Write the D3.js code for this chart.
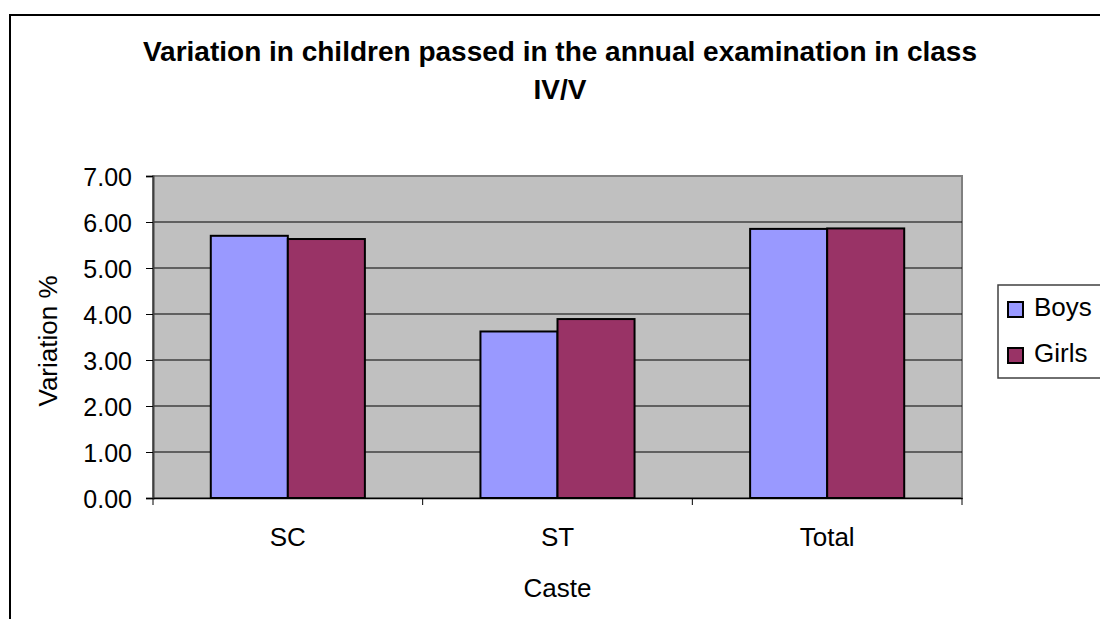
<html lang="en">
  <head>
    <meta charset="utf-8">
    <title>Variation in children passed</title>
    <script src="https://d3js.org/d3.v7.min.js"></script>
    <style>
      body { margin: 0; background: #fff; }
      text { font-family: "Liberation Sans", Arial, sans-serif; fill: #000; }
    </style>
  </head>
  <body>
    <div id="viz"></div>
    <script type="text/javascript">
    // data
    var categories = ["SC", "ST", "Total"];
    var series = ["Boys", "Girls"];
    var boys = [5.70, 3.62, 5.85];
    var girls = [5.63, 3.89, 5.86];
    var yTicks = [0, 1, 2, 3, 4, 5, 6, 7];
    var colors = ["#9999FF", "#993366"];

    var w = 1100, h = 619;
    // plot area (window.top is reserved, so use other names)
    var pLeft = 153, pRight = 962, pTop = 176, pBottom = 498;

    var svg = d3.select("#viz").append("svg")
        .attr("width", w)
        .attr("height", h);

    // outer chart frame
    svg.append("rect")
        .attr("x", 10).attr("y", 15)
        .attr("width", w + 20).attr("height", h + 20)
        .attr("fill", "#fff")
        .attr("stroke", "#000")
        .attr("stroke-width", 2);

    var y = d3.scaleLinear().domain([0, 7]).range([pBottom, pTop]);
    var x0 = d3.scaleBand().domain(categories).range([pLeft, pRight]).padding(0);
    var bw = x0.bandwidth();
    var groupW = bw * 2 / 3.5; // gap width 150%
    var x1 = d3.scaleBand().domain(series).range([0, groupW]).padding(0);

    // plot background
    svg.append("rect")
        .attr("x", pLeft).attr("y", pTop)
        .attr("width", pRight - pLeft).attr("height", pBottom - pTop)
        .attr("fill", "#C0C0C0")
        .attr("stroke", "#808080")
        .attr("stroke-width", 2);

    // gridlines
    svg.append("g")
      .selectAll("line")
      .data(yTicks.filter(function(d) { return d > 0 && d < 7; }))
      .enter().append("line")
        .attr("x1", pLeft).attr("x2", pRight)
        .attr("y1", function(d) { return y(d); })
        .attr("y2", function(d) { return y(d); })
        .attr("stroke", "#000")
        .attr("stroke-width", 1);

    // bars
    var rows = categories.map(function(c, i) {
      return { cat: c, vals: [boys[i], girls[i]] };
    });
    var groups = svg.append("g").selectAll("g")
        .data(rows)
        .enter().append("g")
        .attr("transform", function(d) {
          return "translate(" + (x0(d.cat) + (bw - groupW) / 2) + ",0)";
        });
    groups.selectAll("rect")
        .data(function(d) { return d.vals.map(function(v, j) { return { s: series[j], v: v, j: j }; }); })
        .enter().append("rect")
        .attr("x", function(d) { return x1(d.s); })
        .attr("width", x1.bandwidth())
        .attr("y", function(d) { return y(d.v); })
        .attr("height", function(d) { return pBottom - y(d.v); })
        .attr("fill", function(d) { return colors[d.j]; })
        .attr("stroke", "#000")
        .attr("stroke-width", 2);

    // y axis
    var yAxis = d3.axisLeft(y)
        .tickValues(yTicks)
        .tickFormat(d3.format(".2f"))
        .tickSize(7)
        .tickPadding(14);
    var gy = svg.append("g")
        .attr("transform", "translate(" + pLeft + ",0)")
        .call(yAxis);
    gy.select(".domain").attr("stroke", "#404040").attr("stroke-width", 2);
    gy.selectAll(".tick line").attr("stroke", "#000");
    gy.selectAll(".tick text")
        .style("font-size", "25px")
        .attr("dy", "0.36em");

    // x axis
    var xAxis = d3.axisBottom(x0).tickSize(0).tickPadding(30);
    var gx = svg.append("g")
        .attr("transform", "translate(0," + pBottom + ")")
        .call(xAxis);
    gx.select(".domain").attr("stroke", "#000").attr("stroke-width", 1.5);
    gx.selectAll(".tick text").style("font-size", "26px");
    // category boundary ticks
    gx.selectAll(".sep")
      .data(categories.concat(["end"]))
      .enter().append("line")
        .attr("x1", function(d, i) { return pLeft + i * bw; })
        .attr("x2", function(d, i) { return pLeft + i * bw; })
        .attr("y1", 0).attr("y2", 7)
        .attr("stroke", "#000");

    // titles
    svg.append("text")
        .attr("x", 560).attr("y", 61)
        .attr("text-anchor", "middle")
        .style("font-size", "28px")
        .style("font-weight", "bold")
        .text("Variation in children passed in the annual examination in class");
    svg.append("text")
        .attr("x", 560).attr("y", 99)
        .attr("text-anchor", "middle")
        .style("font-size", "28px")
        .style("font-weight", "bold")
        .text("IV/V");

    svg.append("text")
        .attr("x", (pLeft + pRight) / 2).attr("y", 597)
        .attr("text-anchor", "middle")
        .style("font-size", "26px")
        .text("Caste");

    svg.append("text")
        .attr("transform", "translate(57," + 341 + ") rotate(-90)")
        .attr("text-anchor", "middle")
        .style("font-size", "26px")
        .text("Variation %");

    // legend
    var legend = svg.append("g");
    legend.append("rect")
        .attr("x", 998).attr("y", 285)
        .attr("width", 120).attr("height", 93)
        .attr("fill", "#fff")
        .attr("stroke", "#404040")
        .attr("stroke-width", 1.5);
    var items = legend.selectAll(".item")
        .data(series)
        .enter().append("g")
        .attr("transform", function(d, i) { return "translate(1008," + (302 + i * 46) + ")"; });
    items.append("rect")
        .attr("width", 15).attr("height", 15)
        .attr("fill", function(d, i) { return colors[i]; })
        .attr("stroke", "#000")
        .attr("stroke-width", 2);
    items.append("text")
        .attr("x", 26).attr("y", 14)
        .style("font-size", "26px")
        .text(function(d) { return d; });
    </script>
  </body>
</html>
